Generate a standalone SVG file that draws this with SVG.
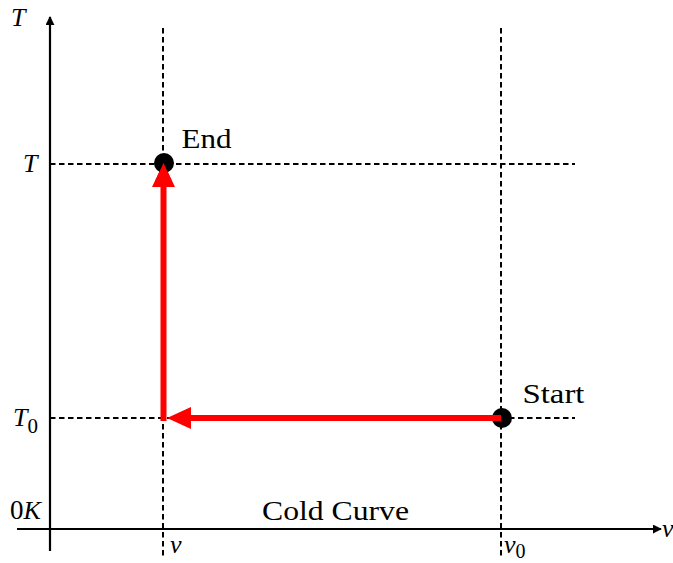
<svg xmlns="http://www.w3.org/2000/svg" width="673" height="563" viewBox="0 0 673 563">
<style>
.ax{stroke:#000;stroke-width:2.2;fill:none}
.dash{stroke:#000;stroke-width:2;stroke-dasharray:5.5,3.5;fill:none}
.red{stroke:#f00;stroke-width:6;fill:none}
.t{font-family:"Liberation Serif","DejaVu Serif",serif;font-size:27px;fill:#000}
.m{font-style:italic;font-size:26px}
</style>
<defs>
<marker id="ah" viewBox="0 0 10 10" refX="9" refY="5" markerWidth="9" markerHeight="9" markerUnits="userSpaceOnUse" orient="auto"><path d="M0,0 L10,5 L0,10 z" fill="#000"/></marker>
</defs>
<g id="axes">
<line class="ax" x1="50" y1="551" x2="50" y2="17" marker-end="url(#ah)"/>
<line class="ax" x1="17" y1="529" x2="661" y2="529" marker-end="url(#ah)"/>
</g>
<g id="guides">
<line class="dash" x1="163" y1="28" x2="163" y2="556"/>
<line class="dash" x1="501" y1="28" x2="501" y2="556"/>
<line class="dash" x1="50" y1="164" x2="575" y2="164"/>
<line class="dash" x1="50" y1="418" x2="575" y2="418"/>
</g>
<g id="connectors">
<line class="red" x1="500" y1="418" x2="188" y2="418"/>
<polygon points="167,418 191,407 191,429" fill="#f00"/>
<line class="red" x1="163.5" y1="421" x2="163.5" y2="184"/>
<polygon points="163.5,163 152,187 175,187" fill="#f00"/>
</g>
<g id="end"><circle cx="164" cy="163" r="10" fill="#000"/><polygon points="163.5,163 155,181 172,181" fill="#f00"/><text class="t" x="181.5" y="148" textLength="50" lengthAdjust="spacingAndGlyphs">End</text></g>
<g id="start"><circle cx="502" cy="418" r="10" fill="#000"/><rect x="480" y="415" width="21" height="6" fill="#f00"/><text class="t" x="522.5" y="403" textLength="62" lengthAdjust="spacingAndGlyphs">Start</text></g>
<g id="labels">
<text class="t m" x="11" y="26">T</text>
<text class="t m" x="23" y="172">T</text>
<text class="t m" x="13" y="426">T<tspan font-style="normal" dy="7" font-size="21">0</tspan></text>
<text class="t" x="10" y="519" font-size="26">0<tspan class="m">K</tspan></text>
<text class="t m" x="170" y="553">v</text>
<text class="t m" x="504" y="553">v<tspan font-style="normal" dy="5" font-size="20">0</tspan></text>
<text class="t m" x="662" y="537">v</text>
<text class="t" x="262" y="520" textLength="147" lengthAdjust="spacingAndGlyphs">Cold Curve</text>
</g>
</svg>
